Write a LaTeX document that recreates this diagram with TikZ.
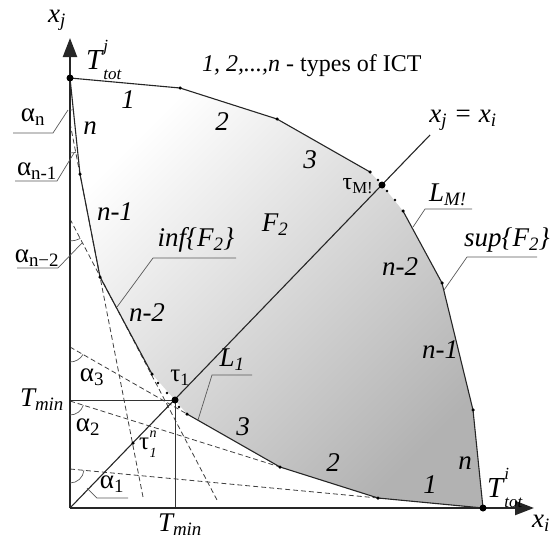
\documentclass[tikz,border=0pt]{standalone}
\usepackage{fontspec}
\setmainfont{Liberation Serif}
\usetikzlibrary{arrows.meta}
\newcommand{\TotLabel}[1]{T\kern1pt\raisebox{0.62em}{\makebox[0pt][l]{\fontsize{17}{17}\selectfont #1}}\raisebox{-0.32em}{\fontsize{17}{17}\selectfont tot}}
\newcommand{\TauLabel}{τ\kern0.5pt\raisebox{0.5em}{\makebox[0pt][l]{\fontsize{14}{14}\selectfont\itshape n}}\raisebox{-0.3em}{\fontsize{14}{14}\selectfont\itshape 1}}
\begin{document}
\begin{tikzpicture}[x=1pt,y=-1pt,
  axisline/.style={line width=2.2pt, draw=black!85, -{Triangle[length=19pt,width=14pt]}},
  curve/.style={line width=1.1pt, draw=black!85},
  dsh/.style={line width=0.8pt, draw=black!75, dash pattern=on 5pt off 3pt},
  tminline/.style={line width=1pt, draw=black!80},
  leadline/.style={line width=0.7pt, draw=black!65},
  bigdot/.style={circle, fill=black, inner sep=0pt, minimum size=7pt},
  smalldot/.style={circle, fill=black, inner sep=0pt, minimum size=3.5pt},
  lbl/.style={font=\fontsize{27}{27}\selectfont\itshape, inner sep=0pt},
  glbl/.style={font=\fontsize{27}{27}\selectfont, inner sep=0pt},
  ttl/.style={font=\fontsize{24}{24}\selectfont, inner sep=0pt, anchor=west},
]
\useasboundingbox (0,0) rectangle (556,543);
% key points
\coordinate (O) at (70,508);
\coordinate (Ytip) at (70,38);
\coordinate (Xtip) at (534,508);
\coordinate (Tj) at (70,78);
\coordinate (Ti) at (483,508);
\coordinate (s1) at (180,88);
\coordinate (s2) at (277,119);
\coordinate (s3) at (370,172);
\coordinate (tM) at (382,185);
\coordinate (s4) at (403,211);
\coordinate (s5) at (442,283);
\coordinate (s6) at (473,410);
\coordinate (i1) at (80,174);
\coordinate (i2) at (100,277);
\coordinate (i3) at (152,374);
\coordinate (t1) at (175,400);
\coordinate (i4) at (187,414);
\coordinate (i5) at (280,467);
\coordinate (i6) at (378,498);
\coordinate (Dend) at (430,135);
\coordinate (a1) at (70,469);
\coordinate (a2) at (70,401);
\coordinate (a3) at (70,347);
\coordinate (an2) at (70,219);
\coordinate (an1) at (70,123);
\coordinate (e1) at (143,497);
\coordinate (e2) at (217,500);
\coordinate (tmy) at (70,400);
\coordinate (tmx) at (175,508);
\coordinate (t1n) at (133,443);
% shaded feasible region
\shade[top color=white, middle color=gray!6, bottom color=gray!60, shading angle=45]
  (Tj) -- (s1) -- (s2) -- (s3) -- (tM) -- (s4) -- (s5) -- (s6) -- (Ti)
  -- (i6) -- (i5) -- (i4) -- (t1) -- (i3) -- (i2) -- (i1) -- cycle;
% dashed extensions
\draw[dsh] (a1) -- (i6);
\draw[dsh] (a2) -- (i5);
\draw[dsh] (a3) -- (i4);
\draw[dsh] (an2) -- (e2);
\draw[dsh] (an1) -- (e1);
% T_min lines
\draw[tminline] (tmy) -- (t1) -- (tmx);
% diagonal
\draw[curve] (O) -- (Dend);
% sup curve
\draw[curve] (Tj) -- (s1) -- (s2) -- (s3);
\draw[curve] (s4) -- (s5) -- (s6) -- (Ti);
% inf curve
\draw[curve] (Tj) -- (i1) -- (i2) -- (i3);
\draw[curve] (i4) -- (i5) -- (i6) -- (Ti);
% axes
\draw[axisline] (O) -- (Ytip);
\draw[axisline] (O) -- (Xtip);
% dots
\foreach \p in {s1,s2,s3,s4,s5,s6,i1,i2,i3,i4,i5,i6,t1n}
  \node[smalldot] at (\p) {};
\foreach \q in {(378,180),(387,191),(395,200),(158,383),(167,393),(179,407)}
  \node[smalldot, minimum size=2.6pt] at \q {};
\foreach \p in {Tj,Ti,t1,tM}
  \node[bigdot] at (\p) {};
% angle arcs
\draw[leadline] (a1) ++(5.4:14) arc[start angle=5.4, end angle=90, radius=14];
\draw[leadline] (a2) ++(17.5:14) arc[start angle=17.5, end angle=90, radius=14];
\draw[leadline] (a3) ++(29.7:15) arc[start angle=29.7, end angle=90, radius=15];
\draw[leadline] (an2) ++(62:22) arc[start angle=62, end angle=90, radius=22];
\draw[leadline] (an1) ++(79:30) arc[start angle=79, end angle=90, radius=30];
\draw[leadline] (Tj) ++(84:32) arc[start angle=84, end angle=90, radius=32];
% axis labels
\node[lbl] (xj) at (57,20) {x\textsubscript{j}};
\node[lbl] (xi) at (541,523) {x\textsubscript{i}};
\node[lbl, font=\fontsize{29}{29}\selectfont\itshape, anchor=west] (Tjl) at (86,60) {\TotLabel{j}};
\node[lbl, font=\fontsize{29}{29}\selectfont\itshape, anchor=west] (Til) at (487,488) {\TotLabel{i}};
\node[ttl] (title) at (202,66) {\textit{1, 2,...,n} - types of ICT};
% sup curve labels
\node[lbl] (u1) at (128,100) {1};
\node[lbl] (u2) at (222,122) {2};
\node[lbl] (u3) at (310,160) {3};
\node[glbl, font=\fontsize{24}{24}\selectfont] (tMl) at (358,186) {τ\textsubscript{M!}};
\node[lbl] (un2) at (400,267) {n-2};
\node[lbl] (un1) at (440,350) {n-1};
\node[lbl] (un) at (465,463) {n};
% inf curve labels
\node[lbl] (l1) at (90,128) {n};
\node[lbl] (l2) at (115,212) {n-1};
\node[lbl] (l3) at (147,313) {n-2};
\node[lbl] (l4) at (243,427) {3};
\node[lbl] (l5) at (333,463) {2};
\node[lbl] (l6) at (430,485) {1};
\node[glbl, font=\fontsize{25}{25}\selectfont] (t1l) at (180,378) {τ\textsubscript{1}};
\node[glbl, font=\fontsize{25}{25}\selectfont, anchor=west] (t1nl) at (139,444) {\TauLabel};
\node[lbl] (F2) at (275,225) {F\textsubscript{2}};
% T_min labels
\node[lbl] (tminl) at (42,400) {T\textsubscript{min}};
\node[lbl] (tminb) at (180,525) {T\textsubscript{min}};
% alpha labels
\node[glbl] (al3) at (92,377) {α\textsubscript{3}};
\node[glbl] (al2) at (88,427) {α\textsubscript{2}};
\node[glbl] (al1) at (112,484) {α\textsubscript{1}};
\node[glbl] (aln) at (33,117) {α\textsubscript{n}};
\node[glbl] (aln1) at (37,171) {α\textsubscript{n-1}};
\node[glbl] (aln2) at (37,258) {α\textsubscript{n−2}};
% leaders
\coordinate (ln1) at (13,133); \coordinate (ln2) at (53,133); \coordinate (ln3) at (68,110);
\draw[leadline] (ln1) -- (ln2) -- (ln3);
\coordinate (lm1) at (15,181); \coordinate (lm2) at (57,181); \coordinate (lm3) at (74,153);
\draw[leadline] (lm1) -- (lm2) -- (lm3);
\coordinate (lk1) at (17,268); \coordinate (lk2) at (58,268); \coordinate (lk3) at (82,243);
\draw[leadline] (lk1) -- (lk2) -- (lk3);
\coordinate (la1) at (128,498); \coordinate (la2) at (97,498); \coordinate (la3) at (87,488);
\draw[leadline] (la1) -- (la2) -- (la3);
% inf / sup / L labels
\node[lbl] (inf) at (196,240) {inf\{F\textsubscript{2}\}};
\coordinate (li1) at (236,258); \coordinate (li2) at (153,258); \coordinate (li3) at (117,307);
\draw[leadline] (li1) -- (li2) -- (li3);
\node[lbl] (sup) at (507,240) {sup\{F\textsubscript{2}\}};
\coordinate (ls1) at (537,257); \coordinate (ls2) at (467,257); \coordinate (ls3) at (444,290);
\draw[leadline] (ls1) -- (ls2) -- (ls3);
\node[lbl] (L1) at (232,360) {L\textsubscript{1}};
\coordinate (lL1) at (252,375); \coordinate (lL2) at (212,375); \coordinate (lL3) at (198,420);
\draw[leadline] (lL1) -- (lL2) -- (lL3);
\node[lbl] (LM) at (448,195) {L\textsubscript{M!}};
\coordinate (lM1) at (472,209); \coordinate (lM2) at (425,209); \coordinate (lM3) at (413,227);
\draw[leadline] (lM1) -- (lM2) -- (lM3);
\node[lbl] (diag) at (463,120) {x\textsubscript{j} = x\textsubscript{i}};
\end{tikzpicture}
\end{document}
